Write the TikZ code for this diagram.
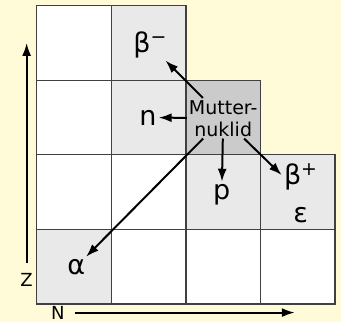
\documentclass[tikz,border=0pt]{standalone}
\usepackage{fontspec}
\setmainfont{DejaVu Sans}
\usepackage{xcolor}
\usetikzlibrary{positioning, arrows.meta}

\definecolor{bgyellow}{RGB}{255,251,216}
\definecolor{lightcell}{RGB}{233,233,233}
\definecolor{darkcell}{RGB}{203,203,203}

\begin{document}
\begin{tikzpicture}[x=74.6pt, y=74.6pt,
    cell/.style={draw=black!75, line width=1.3pt},
    arr/.style={-{Latex[length=13pt,width=9pt]}, line width=2pt},
    lbl/.style={font=\fontsize{27}{38}\selectfont, inner sep=2pt, align=center},
    ax/.style={font=\fontsize{18}{21}\selectfont, inner sep=1pt}]

    % Background
    \fill[bgyellow] (-0.492,-0.241) rectangle (4.079,4.075);
    \useasboundingbox (-0.492,-0.241) rectangle (4.079,4.075);

    % White cells of the chart
    \foreach \i/\j in {0/3, 0/2, 0/1, 1/1, 1/0, 2/0, 3/0}
        \draw[cell, fill=white] (\i,\j) rectangle ++(1,1);

    % Daughter cells
    \foreach \i/\j in {1/3, 1/2, 2/1, 3/1, 0/0}
        \draw[cell, fill=lightcell] (\i,\j) rectangle ++(1,1);

    % Mother cell
    \draw[cell, fill=darkcell] (2,2) rectangle ++(1,1);

    % Labels of the decays
    \node[font=\fontsize{19}{22}\selectfont, align=center, inner sep=2pt] (mutter) at (2.5,2.49) {Mutter-\\nuklid};
    \node[lbl] (bminus) at (1.52,3.47) {β\textsuperscript{−}};
    \node[lbl] (neutron) at (1.49,2.50) {n};
    \node[lbl] (proton) at (2.48,1.47) {p};
    \node[lbl] (bplus) at (3.54,1.48) {β\textsuperscript{+}\\ε};
    \node[lbl] (alpha) at (0.53,0.50) {α};

    % Decay arrows
    \draw[arr] (mutter) -- (bminus);
    \draw[arr] (mutter) -- (neutron);
    \draw[arr] (mutter) -- (proton);
    \draw[arr] (mutter) -- (bplus);
    \draw[arr] (mutter) -- (alpha);

    % Axes Z and N
    \node[ax] (zlbl) at (-0.135,0.32) {Z};
    \node[ax] (nlbl) at (0.285,-0.115) {N};
    \coordinate (ztip) at (-0.135,3.50);
    \coordinate (ntip) at (3.46,-0.115);
    \draw[arr, shorten <=9pt] (zlbl.north) -- (ztip);
    \draw[arr, shorten <=9pt] (nlbl.east) -- (ntip);

\end{tikzpicture}
\end{document}
